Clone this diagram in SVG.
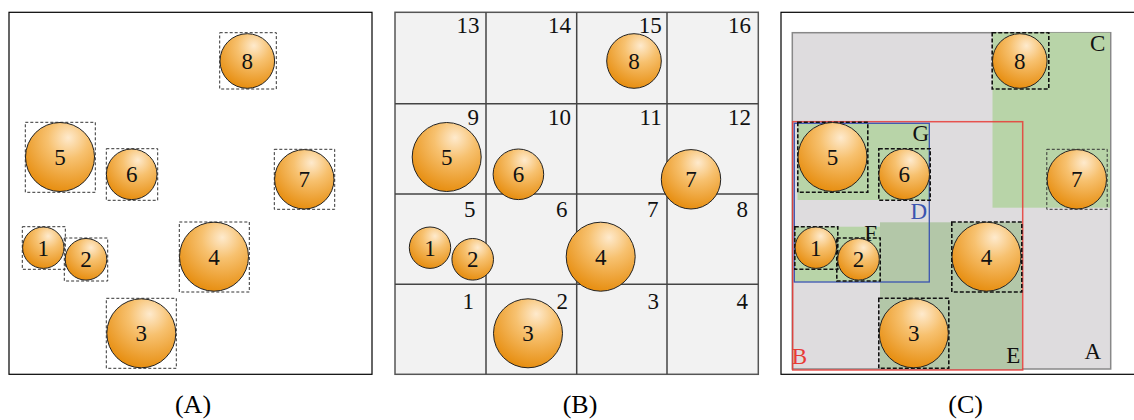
<svg xmlns="http://www.w3.org/2000/svg" width="1134" height="420" viewBox="0 0 1134 420">
<style>
.frame{fill:#fff;stroke:#000;stroke-width:1.2}
.ball{fill:url(#og);stroke:#222;stroke-width:1}
.box{fill:none;stroke:#333;stroke-width:1;stroke-dasharray:3 2}
.boxc{fill:none;stroke:#111;stroke-width:1.6;stroke-dasharray:4 2}
.num{font-family:"Liberation Serif",serif;font-size:23px;fill:#111;text-anchor:middle}
.cell{font-family:"Liberation Serif",serif;font-size:23px;fill:#111;text-anchor:end}
.cap{font-family:"Liberation Serif",serif;font-size:26px;fill:#000;text-anchor:middle}
.grid{stroke:#444;stroke-width:1.5}
.green{fill:#b8d4a8}
</style>
<defs>
<radialGradient id="og" cx="0.62" cy="0.25" r="0.85" fx="0.62" fy="0.22">
<stop offset="0" stop-color="#feeacd"/>
<stop offset="0.35" stop-color="#f7c16f"/>
<stop offset="1" stop-color="#e48500"/>
</radialGradient>
</defs>

<!-- Panel A -->
<g id="panelA">
<rect class="frame" x="9" y="12.3" width="363" height="362"/>
<g id="A1"><rect class="box" x="22.3" y="226.7" width="43" height="42.6"/><circle class="ball" cx="43.3" cy="247.7" r="20.7"/><text class="num" x="43.3" y="255.5">1</text></g>
<g id="A2"><rect class="box" x="64.3" y="238" width="43.4" height="43"/><circle class="ball" cx="86" cy="259.3" r="20.8"/><text class="num" x="86" y="267.1">2</text></g>
<g id="A3"><rect class="box" x="106.3" y="298.3" width="70" height="70"/><circle class="ball" cx="141.3" cy="333.3" r="34.5"/><text class="num" x="141.3" y="341.1">3</text></g>
<g id="A4"><rect class="box" x="179.3" y="222" width="70" height="70"/><circle class="ball" cx="214" cy="256.7" r="34.5"/><text class="num" x="214" y="264.5">4</text></g>
<g id="A5"><rect class="box" x="25.3" y="122.3" width="70" height="70"/><circle class="ball" cx="60" cy="157" r="34.5"/><text class="num" x="60" y="164.8">5</text></g>
<g id="A6"><rect class="box" x="106.3" y="148.7" width="51.4" height="51.6"/><circle class="ball" cx="131.7" cy="174.3" r="25.3"/><text class="num" x="131.7" y="182.1">6</text></g>
<g id="A7"><rect class="box" x="274.3" y="149.3" width="60.4" height="60"/><circle class="ball" cx="304.3" cy="179.3" r="29.7"/><text class="num" x="304.3" y="187.1">7</text></g>
<g id="A8"><rect class="box" x="219.7" y="32.7" width="56.6" height="56.3"/><circle class="ball" cx="247.3" cy="61" r="27.3"/><text class="num" x="247.3" y="68.8">8</text></g>
<text class="cap" x="193" y="413">(A)</text>
</g>

<!-- Panel B -->
<g id="panelB">
<rect x="395" y="12.3" width="363.3" height="362" fill="#f2f2f2" stroke="#555" stroke-width="1.5"/>
<g id="gridlines">
<line class="grid" x1="486" y1="12.3" x2="486" y2="374.3"/>
<line class="grid" x1="576.7" y1="12.3" x2="576.7" y2="374.3"/>
<line class="grid" x1="667" y1="12.3" x2="667" y2="374.3"/>
<line class="grid" x1="395" y1="103.7" x2="758.3" y2="103.7"/>
<line class="grid" x1="395" y1="194" x2="758.3" y2="194"/>
<line class="grid" x1="395" y1="284.3" x2="758.3" y2="284.3"/>
</g>
<g id="cellnums">
<text class="cell" x="479.5" y="33">13</text>
<text class="cell" x="571" y="33">14</text>
<text class="cell" x="661.7" y="33">15</text>
<text class="cell" x="751" y="33">16</text>
<text class="cell" x="479" y="125">9</text>
<text class="cell" x="571" y="125">10</text>
<text class="cell" x="661.7" y="125">11</text>
<text class="cell" x="751" y="125">12</text>
<text class="cell" x="475.5" y="217.3">5</text>
<text class="cell" x="567.5" y="217.3">6</text>
<text class="cell" x="658.5" y="217.3">7</text>
<text class="cell" x="748" y="217.3">8</text>
<text class="cell" x="474" y="309.3">1</text>
<text class="cell" x="568" y="309.3">2</text>
<text class="cell" x="659" y="309.3">3</text>
<text class="cell" x="748" y="309.3">4</text>
</g>
<g transform="translate(386.7,0)">
<g id="B1"><circle class="ball" cx="43.3" cy="247.7" r="20.7"/><text class="num" x="43.3" y="255.5">1</text></g>
<g id="B2"><circle class="ball" cx="86" cy="259.3" r="20.8"/><text class="num" x="86" y="267.1">2</text></g>
<g id="B3"><circle class="ball" cx="141.3" cy="333.3" r="34.5"/><text class="num" x="141.3" y="341.1">3</text></g>
<g id="B4"><circle class="ball" cx="214" cy="256.7" r="34.5"/><text class="num" x="214" y="264.5">4</text></g>
<g id="B5"><circle class="ball" cx="60" cy="157" r="34.5"/><text class="num" x="60" y="164.8">5</text></g>
<g id="B6"><circle class="ball" cx="131.7" cy="174.3" r="25.3"/><text class="num" x="131.7" y="182.1">6</text></g>
<g id="B7"><circle class="ball" cx="304.3" cy="179.3" r="29.7"/><text class="num" x="304.3" y="187.1">7</text></g>
<g id="B8"><circle class="ball" cx="247.3" cy="61" r="27.3"/><text class="num" x="247.3" y="68.8">8</text></g>
</g>
<text class="cap" x="580" y="413">(B)</text>
</g>

<!-- Panel C -->
<g id="panelC">
<rect class="frame" x="781" y="12.3" width="370" height="362"/>
<g id="regionA"><rect x="792.3" y="32.7" width="318.4" height="336.3" fill="#dedcde" stroke="#888" stroke-width="1.5"/></g>
<g id="regionC"><rect class="green" x="992.5" y="32.7" width="117.5" height="175"/></g>
<g id="regionG"><rect class="green" x="797.5" y="123.3" width="132" height="76.7"/></g>
<g id="regionF"><rect class="green" x="794.3" y="226.7" width="86" height="55"/></g>
<g id="regionE"><rect x="880" y="222.3" width="142" height="146.7" fill="#b3c7a8"/></g>
<g id="regionB"><rect x="792.7" y="121.7" width="230" height="248.3" fill="none" stroke="#e83a35" stroke-width="1.5" stroke-opacity="0.85"/></g>
<g id="regionD"><rect x="794.3" y="123.3" width="135" height="158.7" fill="none" stroke="#3b55b0" stroke-width="1.3"/></g>
<g id="regionLabels">
<text class="num" x="1097.7" y="51">C</text>
<text class="num" x="1092.7" y="359">A</text>
<text class="num" x="799.5" y="364.3" style="fill:#e83a35">B</text>
<text class="cell" x="927" y="219" style="fill:#3b55b0">D</text>
<text class="cell" x="929" y="140.7">G</text>
<text class="num" x="870.7" y="241">F</text>
<text class="num" x="1013.3" y="363.3">E</text>
</g>
<g transform="translate(772.5,0)">
<g id="C1"><rect class="boxc" x="22.3" y="226.7" width="43" height="42.6"/><circle class="ball" cx="43.3" cy="247.7" r="20.7"/><text class="num" x="43.3" y="255.5">1</text></g>
<g id="C2"><rect class="boxc" x="64.3" y="238" width="43.4" height="43"/><circle class="ball" cx="86" cy="259.3" r="20.8"/><text class="num" x="86" y="267.1">2</text></g>
<g id="C3"><rect class="boxc" x="106.3" y="298.3" width="70" height="70"/><circle class="ball" cx="141.3" cy="333.3" r="34.5"/><text class="num" x="141.3" y="341.1">3</text></g>
<g id="C4"><rect class="boxc" x="179.3" y="222" width="70" height="70"/><circle class="ball" cx="214" cy="256.7" r="34.5"/><text class="num" x="214" y="264.5">4</text></g>
<g id="C5"><rect class="boxc" x="25.3" y="122.3" width="70" height="70"/><circle class="ball" cx="60" cy="157" r="34.5"/><text class="num" x="60" y="164.8">5</text></g>
<g id="C6"><rect class="boxc" x="106.3" y="148.7" width="51.4" height="51.6"/><circle class="ball" cx="131.7" cy="174.3" r="25.3"/><text class="num" x="131.7" y="182.1">6</text></g>
<g id="C7"><rect class="box" x="274.3" y="149.3" width="60.4" height="60"/><circle class="ball" cx="304.3" cy="179.3" r="29.7"/><text class="num" x="304.3" y="187.1">7</text></g>
<g id="C8"><rect class="boxc" x="219.7" y="32.7" width="56.6" height="56.3"/><circle class="ball" cx="247.3" cy="61" r="27.3"/><text class="num" x="247.3" y="68.8">8</text></g>
</g>
<text class="cap" x="965.7" y="413">(C)</text>
</g>
</svg>
